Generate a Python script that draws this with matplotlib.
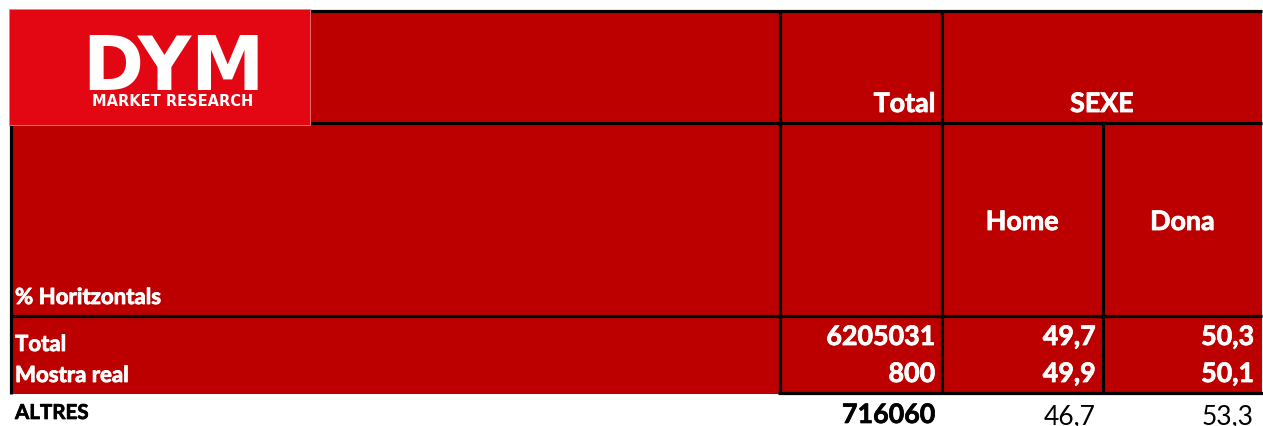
import matplotlib
matplotlib.use("Agg")
import matplotlib.pyplot as plt
from matplotlib.patches import Rectangle
import matplotlib.patheffects as pe

# ---- data ----
header_total = "Total"
group_label = "SEXE"
sub_columns = ["Home", "Dona"]
stub_title = "% Horitzontals"
row_labels = ["Total", "Mostra real"]
row_totals = ["6205031", "800"]
row_home = ["49,7", "49,9"]
row_dona = ["50,3", "50,1"]
extra_label = "ALTRES"
extra_total = "716060"
extra_home = "46,7"
extra_dona = "53,3"
logo_name = "DYM"
logo_sub = "MARKET RESEARCH"

W, H = 1263, 427
DARK = "#BC0000"
LOGO = "#E30613"
FONT = ["Lato", "DejaVu Sans"]

fig = plt.figure(figsize=(W / 100, H / 100), dpi=100)
ax = fig.add_axes([0, 0, 1, 1])
ax.set_xlim(0, W)
ax.set_ylim(H, 0)
ax.axis("off")

# layout (pixels)
x_left, x_stub, x_tot, x_home, x_right = 11, 779.5, 941.5, 1102.5, 1262
y_top, y_h1, y_h2, y_bot = 11.5, 123.5, 317, 394

ax.add_patch(Rectangle((x_left, y_top), x_right - x_left, y_bot - y_top + 1,
                       facecolor=DARK, edgecolor="none", zorder=1))

lw = 2.3
def hline(y, x0, x1):
    ax.plot([x0, x1], [y, y], color="black", lw=lw, solid_capstyle="butt", zorder=3)
def vline(x, y0, y1):
    ax.plot([x, x], [y0, y1], color="black", lw=lw, solid_capstyle="butt", zorder=3)

hline(y_top, x_left, x_right)
hline(y_h1, x_left, x_right)
hline(y_h2, x_left, x_right)
hline(y_bot, x_stub - 1.5, W)
vline(x_left, y_top, y_bot + 1)
vline(x_stub, y_top, y_bot + 1)
vline(x_tot, y_top, y_bot + 1)
vline(x_home, y_h1, y_bot + 1)
ax.plot([x_right + 0.5, x_right + 0.5], [y_top, y_bot], color="black", lw=0.8, zorder=3)

# logo
ax.add_patch(Rectangle((9, 10), 301, 116, facecolor=LOGO, edgecolor="#F08080",
                       lw=0.6, zorder=4))
ax.text(173.5, 90, logo_name, color="white", fontsize=53, fontweight="bold",
        family="DejaVu Sans", ha="center", va="baseline", zorder=5)
ax.text(173, 105.5, logo_sub, color="white", fontsize=10.5, fontweight="bold",
        family="DejaVu Sans", ha="center", va="baseline", zorder=5)

wstroke = [pe.withStroke(linewidth=0.6, foreground="white")]
bstroke = [pe.withStroke(linewidth=0.5, foreground="black")]

big = 19.3
lab = 16
reg = 19

def wtxt(x, y, s, size, ha):
    ax.text(x, y, s, color="white", fontsize=size, fontweight="bold", family=FONT,
            ha=ha, va="baseline", zorder=6, path_effects=wstroke)

# header
wtxt(935, 113, header_total, big, "right")
wtxt((x_tot + x_right) / 2, 113, group_label, big, "center")
for s, (a, b) in zip(sub_columns, [(x_tot, x_home), (x_home, x_right)]):
    wtxt((a + b) / 2, 231, s, big, "center")
wtxt(15, 305, stub_title, lab, "left")

# body rows
label_base = [352, 383]
num_base = [346, 383]
for yl, yn, l, t, h, d in zip(label_base, num_base, row_labels, row_totals,
                              row_home, row_dona):
    wtxt(15, yl, l, lab, "left")
    wtxt(935, yn, t, big, "right")
    wtxt(1095.5, yn, h, big, "right")
    wtxt(1254, yn, d, big, "right")

ax.text(15, 420, extra_label, color="black", fontsize=14.8, fontweight="bold",
        family=FONT, ha="left", va="baseline", zorder=6, path_effects=bstroke)
ax.text(935, 424, extra_total, color="black", fontsize=big, fontweight="bold",
        family=FONT, ha="right", va="baseline", zorder=6, path_effects=bstroke)
ax.text(1095.5, 424, extra_home, color="black", fontsize=reg, family=FONT,
        ha="right", va="baseline", zorder=6)
ax.text(1254, 424, extra_dona, color="black", fontsize=reg, family=FONT,
        ha="right", va="baseline", zorder=6)

fig.savefig("out.png", dpi=100, facecolor="white")
